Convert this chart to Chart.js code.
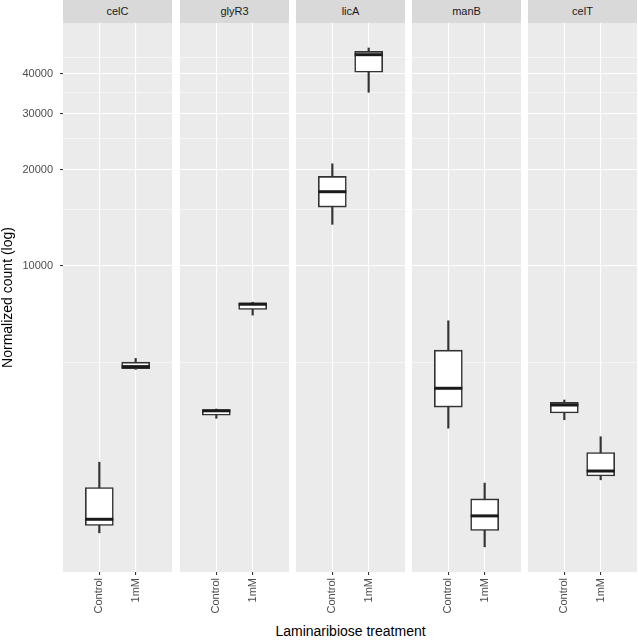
<!DOCTYPE html>
<html>
<head>
<meta charset="utf-8">
<script src="https://cdn.jsdelivr.net/npm/chart.js@4/dist/chart.umd.min.js"></script>
<style>
  body { margin: 0; background: #fff; font-family: "Liberation Sans", Arial, sans-serif; }
  #wrap { position: relative; width: 638px; height: 643px; overflow: hidden; }
  .strip { position: absolute; top: 0; height: 23px; background: #d9d9d9; color: #1a1a1a;
           font-size: 11px; line-height: 23px; text-align: center; }
  canvas { position: absolute; top: 23px; }
  #xtitle { position: absolute; top: 623px; left: 63px; width: 575px; line-height: 16px;
            text-align: center; font-size: 14px; color: #000; }
</style>
</head>
<body>
<div id="wrap">
  <div id="xtitle">Laminaribiose treatment</div>
</div>
<script>
// facets and treatments
const genes = ['celC', 'glyR3', 'licA', 'manB', 'celT'];
const treatments = ['Control', '1mM'];

// box statistics per gene, [Control, 1mM]
const lowerWhisker  = [[1460, 4745], [3335, 7015], [13500, 34980], [3105, 1320], [3300, 2140]];
const lowerQuartile = [[1540, 4765], [3410, 7305], [15290, 40400], [3615, 1485], [3465, 2200]];
const medians       = [[1610, 4840], [3520, 7590], [17080, 45870], [4140, 1650], [3670, 2280]];
const upperQuartile = [[2025, 5000], [3550, 7660], [19070, 46970], [5450, 1865], [3740, 2605]];
const upperWhisker  = [[2430, 5135], [3565, 7700], [20890, 48140], [6735, 2090], [3805, 2920]];

// y axis (log) breaks
const yMajor = [10000, 20000, 30000, 40000];
const yMinor = [5000, 15000, 25000, 35000, 45000];
const yMin = 1101, yMax = 57640;

const FONT = '"Liberation Sans", Arial, sans-serif';
const panelLeft = [63, 180, 296, 412, 528];
const panelW = 109, axisW = 63, canvasH = 620, xAxisH = 71;

const panelBg = {
  id: 'panelBg',
  beforeDraw(chart) {
    const { ctx, chartArea: a } = chart;
    ctx.save();
    ctx.fillStyle = '#ebebeb';
    ctx.fillRect(a.left, a.top, a.right - a.left, a.bottom - a.top);
    ctx.restore();
  }
};

const wrap = document.getElementById('wrap');
const allY = yMinor.concat(yMajor).sort((a, b) => a - b);

genes.forEach((g, i) => {
  const strip = document.createElement('div');
  strip.className = 'strip';
  strip.style.left = panelLeft[i] + 'px';
  strip.style.width = panelW + 'px';
  strip.textContent = g;
  wrap.appendChild(strip);

  const first = i === 0;
  const cv = document.createElement('canvas');
  cv.width = first ? axisW + panelW : panelW;
  cv.height = canvasH;
  cv.style.left = (first ? 0 : panelLeft[i]) + 'px';
  wrap.appendChild(cv);

  const xs = [1, 2];
  new Chart(cv, {
    type: 'bar',
    data: {
      datasets: [
        {
          type: 'line',
          data: xs.map((x, j) => ({ x, y: medians[i][j] })),
          showLine: false,
          pointStyle: 'line',
          pointRadius: 14,
          pointHoverRadius: 14,
          pointBorderWidth: 3,
          pointBorderColor: '#1a1a1a',
          order: 0
        },
        {
          data: xs.map((x, j) => ({ x, y: [lowerQuartile[i][j], upperQuartile[i][j]] })),
          backgroundColor: '#ffffff',
          borderColor: '#333333',
          borderWidth: 1.6,
          borderSkipped: false,
          barThickness: 28,
          grouped: false,
          order: 1
        },
        {
          data: xs.map((x, j) => ({ x, y: [lowerWhisker[i][j], upperWhisker[i][j]] })),
          backgroundColor: '#333333',
          borderWidth: 0,
          barThickness: 1.5,
          grouped: false,
          order: 2
        }
      ]
    },
    options: {
      responsive: false,
      animation: false,
      layout: { padding: 0, autoPadding: false },
      plugins: { legend: { display: false }, tooltip: { enabled: false } },
      scales: {
        x: {
          type: 'linear', min: 0, max: 3, offset: false,
          afterBuildTicks: s => { s.ticks = xs.map(v => ({ value: v })); },
          afterFit: s => { s.height = xAxisH; s.paddingLeft = 0; s.paddingRight = 0; },
          ticks: {
            callback: v => treatments[v - 1],
            minRotation: 90, maxRotation: 90, autoSkip: false,
            color: '#4d4d4d', font: { size: 11, family: FONT }, padding: 3
          },
          grid: { offset: false, color: '#ffffff', lineWidth: 1.1, tickLength: 3, tickColor: '#333333', tickWidth: 1.1 },
          border: { display: false }
        },
        y: {
          type: 'logarithmic', min: yMin, max: yMax,
          afterBuildTicks: s => { s.ticks = allY.map(v => ({ value: v })); },
          afterFit: s => { s.width = first ? axisW : 0; s.paddingTop = 0; s.paddingBottom = 0; },
          ticks: {
            display: first, autoSkip: false,
            callback: v => yMajor.includes(v) ? String(v) : '',
            color: '#4d4d4d', font: { size: 11, family: FONT }, padding: 7
          },
          grid: {
            color: '#ffffff',
            lineWidth: c => yMajor.includes(c.tick.value) ? 1.1 : 0.55,
            drawTicks: first, tickLength: 3, tickWidth: 1.1,
            tickColor: c => yMajor.includes(c.tick.value) ? '#333333' : 'rgba(0,0,0,0)'
          },
          border: { display: false },
          title: {
            display: first, text: 'Normalized count (log)', color: '#000000',
            font: { size: 14, family: FONT }, padding: { top: 0, bottom: 0 }
          }
        }
      }
    },
    plugins: [panelBg]
  });
});
</script>
</body>
</html>
